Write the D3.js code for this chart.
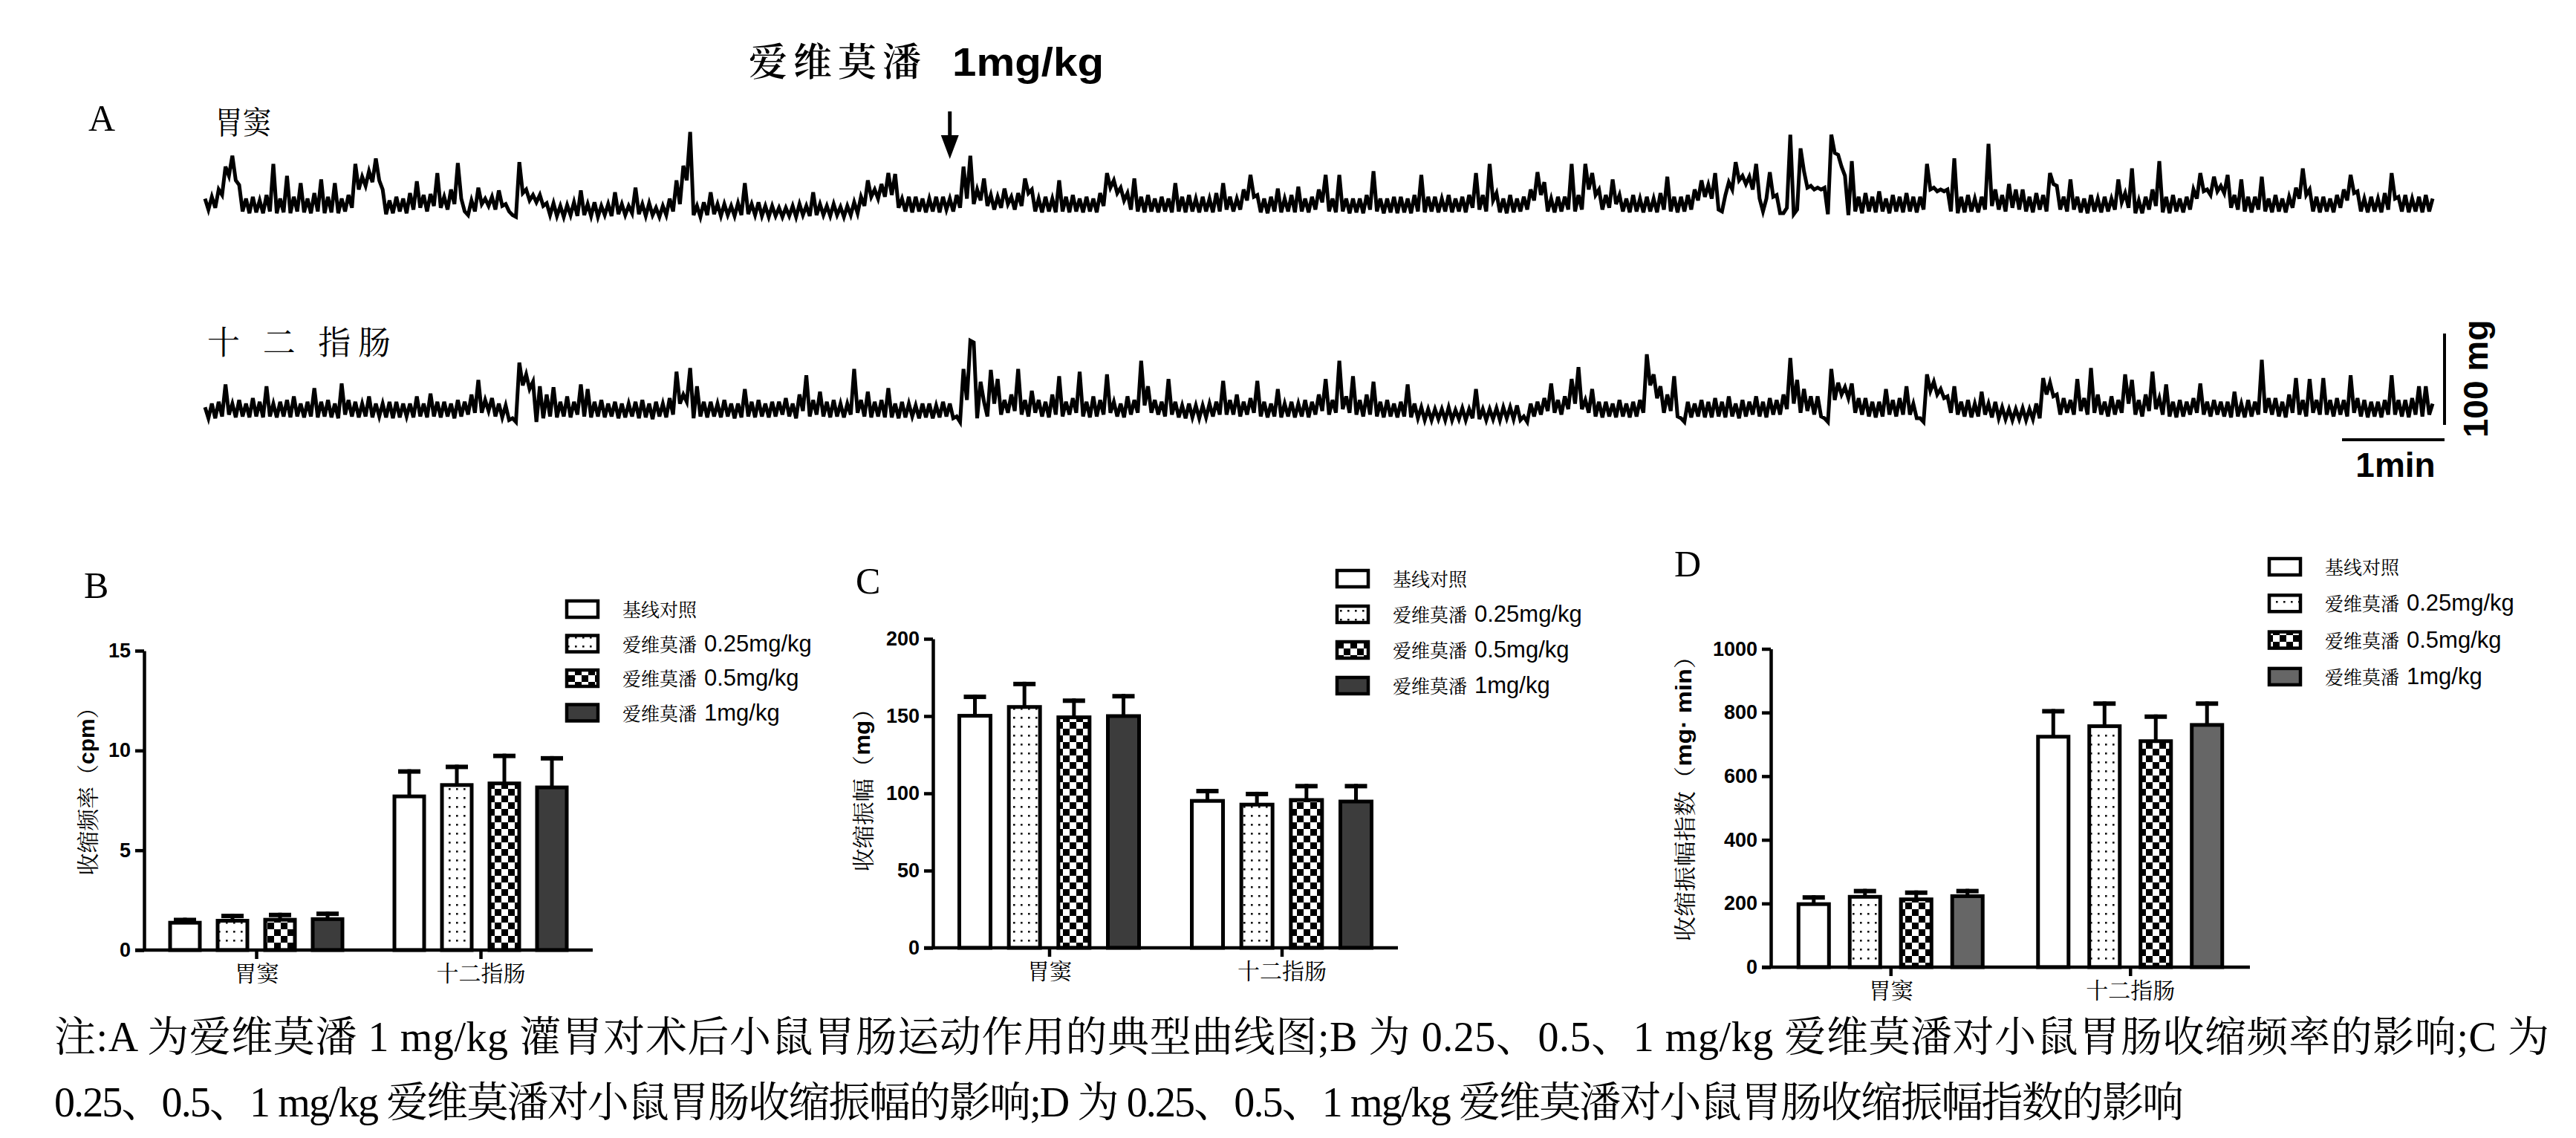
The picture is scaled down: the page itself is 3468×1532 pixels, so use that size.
<!DOCTYPE html>
<html lang="zh">
<head>
<meta charset="utf-8">
<title>爱维莫潘对小鼠胃肠运动的影响</title>
<script src="https://cdn.jsdelivr.net/npm/d3@7"></script>
<style>
    body { margin: 0; background: #fff; }
    .cjk { font-family: "Noto Serif CJK SC", "Noto Sans CJK SC", sans-serif; }
    .lat { font-family: "Liberation Sans", Arial, sans-serif; }
</style>
</head>
<body>
<script>
// ---- data ----
var groups = ["胃窦", "十二指肠"];
var seriesNames = ["基线对照", "爱维莫潘 0.25mg/kg", "爱维莫潘 0.5mg/kg", "爱维莫潘 1mg/kg"];

// B: contraction frequency (cpm), mean and SEM, [胃窦, 十二指肠]
var freqMean = [[1.37, 1.47, 1.52, 1.55], [7.70, 8.27, 8.35, 8.15]];
var freqSem  = [[0.25, 0.35, 0.35, 0.38], [1.36, 1.02, 1.49, 1.57]];
var freqTicks = [0, 5, 10, 15];

// C: contraction amplitude (mg)
var ampMean = [[150.2, 155.9, 149.2, 150.0], [95.1, 92.7, 95.7, 94.7]];
var ampSem  = [[13.7, 16.3, 12.2, 14.3], [7.8, 8.3, 10.4, 11.4]];
var ampTicks = [0, 50, 100, 150, 200];

// D: amplitude index (mg·min)
var idxMean = [[198, 221, 213, 223], [724, 757, 710, 761]];
var idxSem  = [[28, 25, 28, 23], [87, 78, 84, 74]];
var idxTicks = [0, 200, 400, 600, 800, 1000];

// A: force traces in mg above the trace floor, one sample every 2 s
var sampleSec = 2;
var antrumTrace = [
    20,8,22,10,30,24,55,45,67,40,35,6,20,4,22,5,18,4,24,6,
    58,4,20,5,45,4,22,6,37,5,20,4,26,6,41,4,22,5,37,4,
    20,6,24,10,58,30,44,34,50,38,64,40,30,3,18,4,22,6,20,4,
    26,8,39,10,24,6,25,12,48,10,22,8,30,14,59,20,6,2,18,6,
    32,14,20,12,22,8,29,12,14,6,2,0,60,26,30,18,24,16,24,12,
    15,2,15,1,12,0,13,2,16,1,29,2,14,1,16,0,12,2,14,1,
    27,3,14,2,12,4,32,3,14,1,15,2,10,0,12,2,20,6,40,14,
    56,40,93,2,12,0,16,2,27,3,14,1,14,2,12,1,15,2,37,3,
    14,2,16,1,12,0,12,1,10,0,10,1,12,0,14,2,12,1,27,2,
    14,2,12,1,14,2,11,0,12,2,16,4,22,12,40,22,30,20,36,22,
    48,24,47,10,20,6,22,5,22,6,20,5,20,6,22,5,22,8,20,6,
    24,10,55,20,67,14,30,18,42,12,24,8,22,10,31,14,22,8,26,12,
    42,26,30,6,20,5,22,6,20,5,40,6,22,5,24,6,20,5,22,6,
    20,5,26,12,48,32,40,26,32,18,26,8,42,6,22,5,24,6,20,5,
    22,6,20,5,37,6,22,5,24,6,20,5,22,6,20,5,26,6,37,8,
    22,6,20,8,30,18,46,22,24,5,20,4,22,6,31,5,20,6,24,5,
    33,6,20,5,22,8,30,16,46,6,20,5,46,6,20,4,20,5,20,4,
    24,8,50,6,20,4,20,5,22,4,22,5,20,4,24,6,46,5,22,6,
    22,5,20,6,24,5,20,6,22,5,24,10,48,8,24,6,58,18,26,5,
    20,4,24,5,20,6,22,8,30,18,49,24,38,6,20,5,22,6,22,8,
    58,6,24,8,58,30,48,24,30,8,24,10,41,14,24,6,20,5,24,6,
    20,5,22,6,20,5,26,8,44,6,22,5,22,6,24,8,30,18,40,22,
    35,20,48,8,6,24,38,30,60,40,45,36,44,30,58,20,6,20,49,22,
    24,4,4,10,90,3,8,75,50,32,34,30,32,30,32,3,90,70,68,55,
    45,2,61,6,22,4,26,6,22,5,28,6,20,4,24,6,22,5,26,6,
    22,5,22,8,58,30,32,28,30,28,30,6,64,4,22,5,24,6,20,5,
    22,8,80,12,30,8,24,6,36,10,30,8,30,6,22,5,26,8,24,6,
    48,36,34,8,22,6,41,8,22,5,20,4,24,6,20,5,22,6,20,8,
    41,16,26,10,53,4,18,4,22,8,30,12,61,5,22,4,24,6,20,5,
    22,8,30,20,48,28,30,24,44,28,34,26,46,10,24,8,41,6,22,5,
    22,8,44,6,20,5,24,6,20,5,22,10,32,20,53,24,30,6,22,5,
    22,6,20,5,24,10,30,18,46,26,28,6,20,5,22,6,20,5,26,8,
    48,20,22,6,24,5,20,6,22,5,24,6,20
];
var duodenumTrace = [
    16,4,20,4,22,6,41,8,20,5,24,6,20,5,26,6,22,5,39,6,
    20,5,22,6,24,5,28,6,20,5,22,6,37,5,22,6,24,5,20,4,
    42,8,24,6,22,5,20,6,28,5,20,6,20,5,22,4,22,5,20,6,
    20,5,28,6,20,5,31,6,22,5,22,6,20,4,24,6,22,8,30,10,
    46,10,24,12,26,6,20,5,18,2,4,0,65,40,52,36,44,0,39,4,
    30,6,38,5,22,6,28,5,22,8,41,6,36,5,22,6,24,5,20,6,
    22,4,20,5,20,6,22,4,24,5,20,3,22,6,20,5,26,8,55,20,
    30,22,59,4,39,6,22,5,22,6,20,5,24,6,20,4,20,5,36,6,
    22,5,24,6,20,5,22,6,22,8,26,6,20,4,30,12,51,6,24,8,
    33,6,22,5,24,6,20,5,20,8,58,10,24,6,33,5,22,6,24,5,
    37,5,20,4,22,5,20,6,18,4,20,5,20,4,18,5,22,6,20,4,
    6,0,58,24,89,87,4,44,22,6,57,20,47,8,24,10,30,12,58,8,
    24,6,34,10,24,6,22,5,30,8,50,6,22,8,26,10,55,6,22,5,
    28,6,24,8,52,10,22,6,20,5,28,8,24,10,67,18,39,10,24,8,
    22,6,47,8,22,5,18,4,20,5,18,4,18,5,20,6,22,8,45,8,
    24,8,30,6,22,8,26,10,45,6,22,5,20,6,36,5,20,6,22,5,
    20,6,24,5,22,8,30,12,47,8,24,10,67,14,28,10,50,8,24,6,
    30,8,44,6,22,5,24,6,20,5,22,6,41,5,20,4,16,2,14,2,
    14,3,14,2,16,2,13,3,15,2,14,4,36,3,14,2,14,3,15,2,
    16,4,16,3,18,2,6,0,20,6,22,8,26,12,42,10,24,8,28,14,
    47,20,60,14,24,10,36,6,22,5,22,6,20,5,24,6,20,5,22,6,
    24,10,74,40,52,26,39,10,30,12,50,6,4,0,22,5,20,6,24,5,
    22,5,26,6,22,5,28,6,20,4,24,6,22,8,28,6,22,5,26,8,
    24,8,30,14,70,20,46,10,36,12,28,8,28,6,4,0,58,24,43,30,
    38,26,42,10,26,8,26,6,22,5,22,6,36,8,24,6,26,8,39,8,
    20,4,4,0,52,34,44,30,36,26,28,10,39,8,22,6,24,5,20,6,
    33,8,20,5,22,4,16,3,14,2,14,3,15,2,14,3,20,4,48,30,
    43,28,30,8,26,10,24,8,47,12,26,8,59,10,30,8,22,6,28,8,
    24,10,52,20,46,8,24,6,30,12,55,14,26,8,41,6,22,5,24,6,
    22,8,26,10,42,8,22,6,24,8,22,6,22,5,33,6,20,5,24,6,
    22,8,68,10,26,8,26,6,22,5,30,10,48,8,24,6,47,10,24,8,
    48,8,24,6,26,8,24,6,51,10,26,6,24,5,22,6,22,5,24,8,
    51,8,24,6,24,5,26,8,39,6,39,8,20
];
var doseSec = 436;        // time of the 1 mg/kg gavage (arrow)
var scaleMg = 100;        // vertical scale bar
var scaleSec = 60;        // horizontal scale bar

var captionLines = [
    "注:A 为爱维莫潘 1 mg/kg 灌胃对术后小鼠胃肠运动作用的典型曲线图;B 为 0.25、0.5、1 mg/kg 爱维莫潘对小鼠胃肠收缩频率的影响;C 为",
    "0.25、0.5、1 mg/kg 爱维莫潘对小鼠胃肠收缩振幅的影响;D 为 0.25、0.5、1 mg/kg 爱维莫潘对小鼠胃肠收缩振幅指数的影响"
];

// ---- svg ----
var W = 3468, H = 1532;
var svg = d3.select("body").append("svg")
    .attr("width", W)
    .attr("height", H)
    .attr("viewBox", [0, 0, W, H]);

var defs = svg.append("defs");
var dots = defs.append("pattern").attr("id", "dots")
    .attr("patternUnits", "userSpaceOnUse").attr("width", 10).attr("height", 12);
dots.append("rect").attr("width", 10).attr("height", 12).attr("fill", "#fff");
dots.append("rect").attr("x", 4).attr("y", 5).attr("width", 2.6).attr("height", 2.6).attr("fill", "#111");

var checker = defs.append("pattern").attr("id", "checker")
    .attr("patternUnits", "userSpaceOnUse").attr("width", 18).attr("height", 18);
checker.append("rect").attr("width", 18).attr("height", 18).attr("fill", "#fff");
checker.append("rect").attr("width", 9).attr("height", 9).attr("fill", "#000");
checker.append("rect").attr("x", 9).attr("y", 9).attr("width", 9).attr("height", 9).attr("fill", "#000");

// ---- panel A: traces ----
var tMax = (antrumTrace.length - 1) * sampleSec;
var xT = d3.scaleLinear().domain([0, tMax]).range([276, 3275]);
var yT1 = d3.scaleLinear().domain([0, 100]).range([292, 169]);
var yT2 = d3.scaleLinear().domain([0, 100]).range([568, 445]);

function drawTrace(values, y) {
    var line = d3.line()
        .x(function (d, i) { return xT(i * sampleSec); })
        .y(function (d) { return y(d); });
    svg.append("path")
        .datum(values)
        .attr("d", line)
        .attr("fill", "none")
        .attr("stroke", "#000")
        .attr("stroke-width", 5)
        .attr("stroke-linejoin", "miter");
}
drawTrace(antrumTrace, yT1);
drawTrace(duodenumTrace, yT2);

svg.append("text").attr("x", 119).attr("y", 176)
    .attr("font-family", "Liberation Serif").attr("font-size", 50).text("A");
svg.append("text").attr("class", "cjk").attr("x", 289).attr("y", 180)
    .attr("font-size", 42).attr("textLength", 76).attr("lengthAdjust", "spacingAndGlyphs").text("胃窦");
svg.append("text").attr("class", "cjk").attr("x", 279).attr("y", 477)
    .attr("font-size", 44).attr("textLength", 247).attr("lengthAdjust", "spacing").text("十 二 指肠");

// dose label + arrow
var ax = xT(doseSec);
svg.append("text").attr("class", "cjk").attr("x", 1008).attr("y", 102)
    .attr("font-size", 52).attr("font-weight", 600)
    .attr("textLength", 232).attr("lengthAdjust", "spacing").text("爱维莫潘");
svg.append("text").attr("class", "lat").attr("x", 1282).attr("y", 102)
    .attr("font-size", 54).attr("font-weight", "bold")
    .attr("textLength", 204).attr("lengthAdjust", "spacingAndGlyphs").text("1mg/kg");
svg.append("line").attr("x1", ax).attr("x2", ax).attr("y1", 150).attr("y2", 190)
    .attr("stroke", "#000").attr("stroke-width", 5);
svg.append("path")
    .attr("d", "M" + (ax - 12) + ",182L" + (ax + 12) + ",182L" + ax + ",214Z")
    .attr("fill", "#000");

// scale bars
var barX = 3291, barBase = 572;
svg.append("line").attr("x1", barX).attr("x2", barX)
    .attr("y1", barBase).attr("y2", barBase - (yT2(0) - yT2(scaleMg)))
    .attr("stroke", "#000").attr("stroke-width", 4);
svg.append("line").attr("x1", barX - (xT(scaleSec) - xT(0))).attr("x2", barX)
    .attr("y1", 592).attr("y2", 592)
    .attr("stroke", "#000").attr("stroke-width", 4);
svg.append("text").attr("class", "lat")
    .attr("transform", "translate(3333,510) rotate(-90)")
    .attr("text-anchor", "middle").attr("dominant-baseline", "central")
    .attr("font-size", 46).attr("font-weight", "bold").text(scaleMg + " mg");
svg.append("text").attr("class", "lat").attr("x", 3225).attr("y", 642)
    .attr("text-anchor", "middle").attr("font-size", 46).attr("font-weight", "bold")
    .text(scaleSec / 60 + "min");

// ---- bar panels B, C, D ----
var fills = ["#fff", "url(#dots)", "url(#checker)", null];

function barPanel(o) {
    var g = svg.append("g");
    var y = d3.scaleLinear().domain([0, o.max]).range([o.y0, o.yTop]);
    var x0 = d3.scalePoint().domain(groups).range([o.xLeft, o.xRight]).padding(0.5);
    var x1 = d3.scaleBand().domain(d3.range(seriesNames.length))
        .range([-o.groupW / 2, o.groupW / 2]).paddingInner(o.pad);
    var colors = fills.slice(0, 3).concat([o.dark]);

    // bars with upper error bars
    groups.forEach(function (grp, gi) {
        o.mean[gi].forEach(function (m, si) {
            var cx = x0(grp) + x1(si) + x1.bandwidth() / 2;
            var top = y(m + o.sem[gi][si]);
            g.append("line").attr("x1", cx).attr("x2", cx)
                .attr("y1", y(m)).attr("y2", top)
                .attr("stroke", "#000").attr("stroke-width", 5);
            g.append("line").attr("x1", cx - 15).attr("x2", cx + 15)
                .attr("y1", top + 3).attr("y2", top + 3)
                .attr("stroke", "#000").attr("stroke-width", 6);
            g.append("rect")
                .attr("x", x0(grp) + x1(si))
                .attr("y", y(m))
                .attr("width", x1.bandwidth())
                .attr("height", y(0) - y(m))
                .attr("fill", colors[si])
                .attr("stroke", "#000")
                .attr("stroke-width", 5);
        });
    });

    // axes
    var yAxis = g.append("g")
        .attr("transform", "translate(" + o.xLeft + ",0)")
        .call(d3.axisLeft(y).tickValues(o.ticks).tickFormat(d3.format("d"))
            .tickSize(12).tickSizeOuter(0).tickPadding(6));
    yAxis.selectAll("text").attr("class", "lat")
        .attr("font-size", 27).attr("font-weight", "bold").attr("fill", "#000");

    var xAxis = g.append("g")
        .attr("transform", "translate(0," + o.y0 + ")")
        .call(d3.axisBottom(x0).tickSize(12).tickSizeOuter(0).tickPadding(9));
    xAxis.select(".domain").attr("d", "M" + (o.xLeft - 12) + ",0H" + o.xRight);
    xAxis.selectAll("text").attr("class", "cjk").attr("font-size", 30).attr("fill", "#000");

    [yAxis, xAxis].forEach(function (a) {
        a.select(".domain").attr("stroke", "#000").attr("stroke-width", 4.5);
        a.selectAll(".tick line").attr("stroke", "#000").attr("stroke-width", 4.5);
    });

    // y label
    var yl = g.append("text").attr("class", "cjk")
        .attr("transform", "translate(" + o.labelX + "," + o.labelY + ") rotate(-90)")
        .attr("text-anchor", "middle").attr("dominant-baseline", "central")
        .attr("font-size", 30)
        .attr("textLength", o.labelLen).attr("lengthAdjust", "spacingAndGlyphs");
    yl.append("tspan").text(o.label[0]);
    yl.append("tspan").attr("class", "lat").attr("font-weight", "bold").text(o.label[1]);
    yl.append("tspan").text(o.label[2]);

    // panel letter
    g.append("text").attr("x", o.letterX).attr("y", o.letterY)
        .attr("font-family", "Liberation Serif").attr("font-size", 50).text(o.letter);

    // legend
    seriesNames.forEach(function (name, si) {
        var cy = o.legY + si * o.legStep;
        g.append("rect").attr("x", o.legX).attr("y", cy - 11)
            .attr("width", 42).attr("height", 22)
            .attr("fill", colors[si]).attr("stroke", "#000").attr("stroke-width", 4.5);
        var parts = name.split(" ");
        var t = g.append("text").attr("x", o.legX + 75).attr("y", cy + 10).attr("fill", "#000");
        t.append("tspan").attr("class", "cjk").attr("font-size", 25).text(parts[0]);
        if (parts[1]) {
            t.append("tspan").attr("class", "lat").attr("font-size", 31).attr("dx", 10).text(parts[1]);
        }
    });
}

barPanel({
    mean: freqMean, sem: freqSem, ticks: freqTicks, max: 15,
    xLeft: 194, xRight: 798, y0: 1279, yTop: 876, groupW: 232, pad: 0.375,
    dark: "#3c3c3c",
    label: ["收缩频率（", "cpm", "）"], labelX: 116, labelY: 1058, labelLen: 241,
    letter: "B", letterX: 113, letterY: 805,
    legX: 763, legY: 820, legStep: 46.5
});
barPanel({
    mean: ampMean, sem: ampSem, ticks: ampTicks, max: 200,
    xLeft: 1256, xRight: 1882, y0: 1276, yTop: 860, groupW: 242, pad: 0.37,
    dark: "#3c3c3c",
    label: ["收缩振幅（", "mg", "）"], labelX: 1160, labelY: 1056, labelLen: 235,
    letter: "C", letterX: 1152, letterY: 799,
    legX: 1800, legY: 779, legStep: 48
});
barPanel({
    mean: idxMean, sem: idxSem, ticks: idxTicks, max: 1000,
    xLeft: 2384, xRight: 3029, y0: 1302, yTop: 873.5, groupW: 248, pad: 0.405,
    dark: "#666",
    label: ["收缩振幅指数（", "mg· min", "）"], labelX: 2266, labelY: 1067, labelLen: 401,
    letter: "D", letterX: 2254, letterY: 776,
    legX: 3055, legY: 763, legStep: 49.3
});

// ---- caption ----
var capY = [1415, 1503], capLen = [3359, 2867];
captionLines.forEach(function (line, i) {
    svg.append("text")
        .attr("x", 73).attr("y", capY[i])
        .attr("font-family", "'Liberation Serif', 'Noto Serif CJK SC', 'Noto Sans CJK SC', serif")
        .attr("font-size", 56)
        .attr("textLength", capLen[i]).attr("lengthAdjust", "spacing")
        .text(line);
});
</script>
</body>
</html>
